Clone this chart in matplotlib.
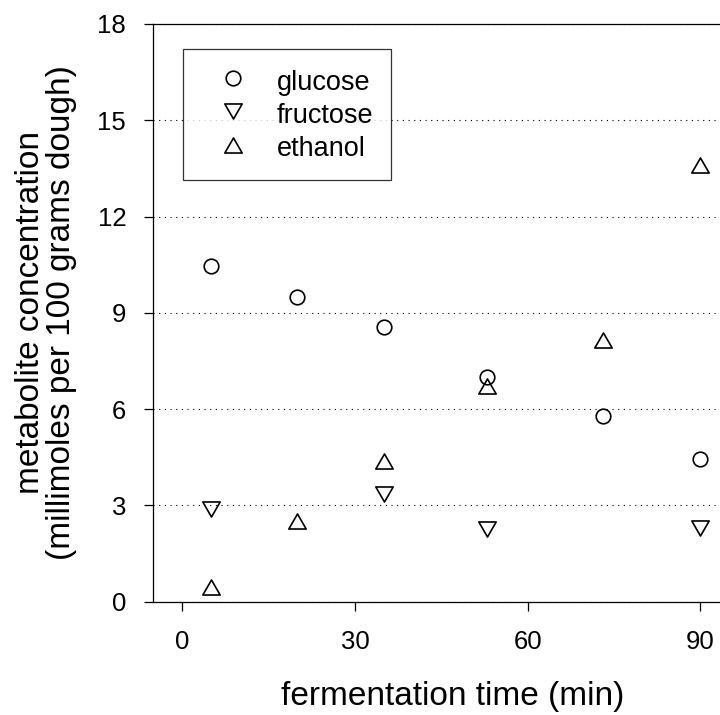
import matplotlib
matplotlib.use('Agg')
import matplotlib.pyplot as plt
from matplotlib.path import Path

plt.rcParams['font.family'] = ['Liberation Sans', 'DejaVu Sans']

# fermentation time (min) and measured concentrations
glucose_t = [5, 20, 35, 53, 73, 90]
glucose = [10.45, 9.5, 8.55, 7.0, 5.8, 4.45]

fructose_t = [5, 35, 53, 90]
fructose = [2.9, 3.35, 2.25, 2.3]

ethanol_t = [5, 20, 35, 53, 73, 90]
ethanol = [0.45, 2.5, 4.38, 6.72, 8.15, 13.62]

x_ticks = [0, 30, 60, 90]
y_ticks = [0, 3, 6, 9, 12, 15, 18]

# wide, equilateral-ish triangles like the original
tri_up = Path([(-1, -0.866), (1, -0.866), (0, 0.866), (-1, -0.866)], closed=True)
tri_down = Path([(-1, 0.866), (1, 0.866), (0, -0.866), (-1, 0.866)], closed=True)

fig = plt.figure(figsize=(7.2, 7.15), dpi=100)
ax = fig.add_axes([0.2129, 0.1585, 0.80, 0.808])

style = dict(linestyle='none', markerfacecolor='none', markeredgecolor='black',
             markeredgewidth=1.2)
ax.plot(glucose_t, glucose, marker='o', markersize=10.5, label='glucose', **style)
ax.plot(fructose_t, fructose, marker=tri_down, markersize=12.5, label='fructose', **style)
ax.plot(ethanol_t, ethanol, marker=tri_up, markersize=12.5, label='ethanol', **style)

ax.set_xlim(-5, 95)
ax.set_ylim(0, 18)
ax.set_xticks(x_ticks)
ax.set_yticks(y_ticks)

ax.grid(axis='y', color='black', linestyle=(0, (1, 4.1)), linewidth=0.8)
ax.set_axisbelow(True)

for side in ['left', 'bottom', 'top']:
    ax.spines[side].set_linewidth(0.9)
ax.spines['right'].set_visible(False)

ax.tick_params(axis='both', direction='out', length=6.5, width=0.9, labelsize=18.5,
               top=False, right=False)
ax.tick_params(axis='x', pad=14)
ax.tick_params(axis='y', pad=13)

# the original plot area runs past the right edge of the image, so the
# x label sits right of the visible centre
ax.set_xlabel('fermentation time (min)', fontsize=24)
ax.xaxis.set_label_coords(0.52, -0.137)
ax.set_ylabel('metabolite concentration\n(millimoles per 100 grams dough)',
              fontsize=24, labelpad=15, linespacing=1.0)

leg = ax.legend(loc='upper left', bbox_to_anchor=(0.0524, 0.9567), borderaxespad=0,
                fontsize=19.5, frameon=True, fancybox=False, edgecolor='black',
                borderpad=0.65, handlelength=2.36, handletextpad=0.44,
                handleheight=1.22, labelspacing=0.15)
leg.get_frame().set_linewidth(0.9)

fig.savefig('out.png', dpi=100)
